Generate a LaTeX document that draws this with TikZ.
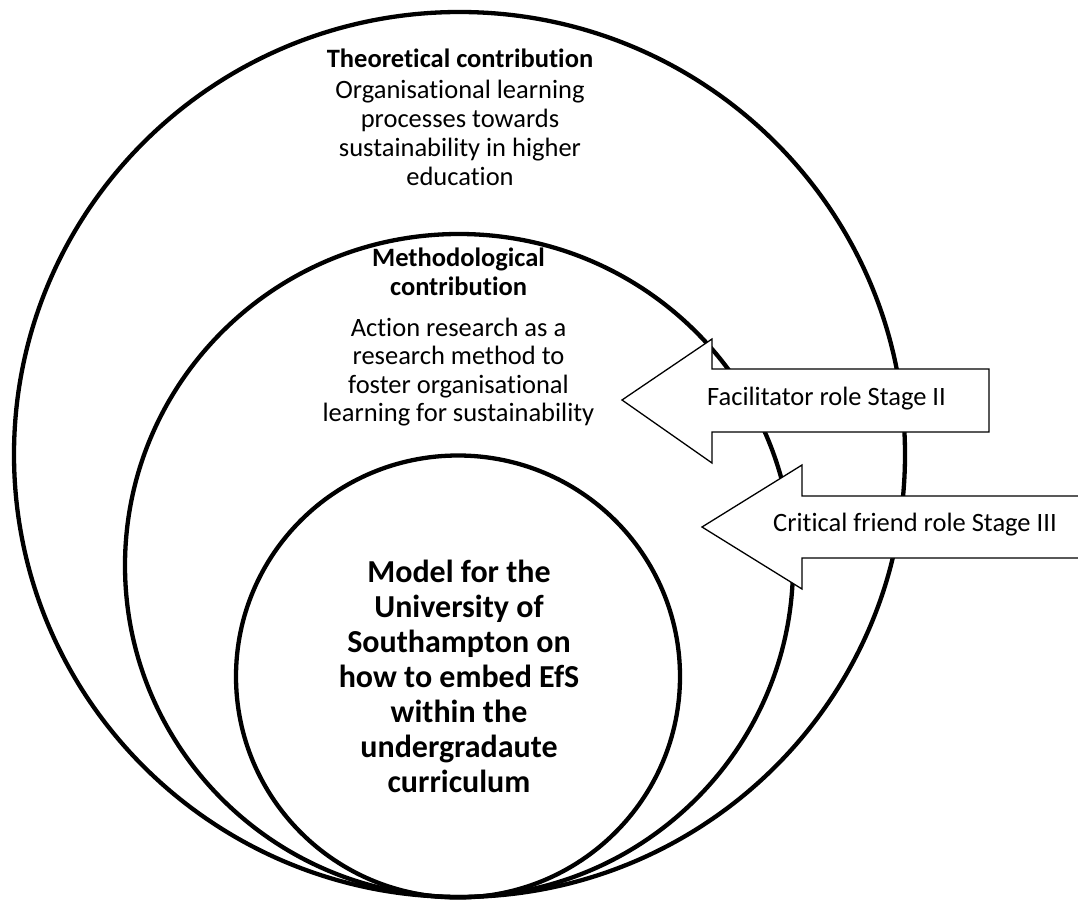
\documentclass[tikz,border=0pt]{standalone}
\usepackage{fontspec}
\setmainfont{Carlito}[Ligatures=NoCommon]
\begin{document}
\begin{tikzpicture}[x=1pt,y=-1pt,
  ring/.style={line width=4.3pt},
  blockarrow/.style={draw, fill=white, line width=1.3pt, line join=miter},
  txt/.style={align=center, inner sep=0pt, font=\fontsize{26.5}{29}\selectfont},
  arrowtxt/.style={inner sep=0pt, anchor=base west, font=\fontsize{26.5}{29}\selectfont},
  bigtxt/.style={align=center, inner sep=0pt, font=\fontsize{32}{35}\selectfont\bfseries}]
\useasboundingbox (0,0) rectangle (1078,901);
\clip (0,0) rectangle (1078,901);
% circles
\coordinate (outerc) at (459.5,454.5);
\coordinate (middlec) at (459,565.5);
\coordinate (innerc) at (458,676.5);
\draw[ring] (outerc) ellipse [x radius=445.5pt, y radius=442.5pt];
\draw[ring] (middlec) ellipse [x radius=334pt, y radius=331.5pt];
\draw[ring] (innerc) ellipse [x radius=222pt, y radius=221pt];
% texts (base anchor = baseline of the last line)
\node[txt, anchor=base] (theo) at (460,185.7)
  {\textbf{Theoretical contribution}\\[2.5pt]
   Organisational learning\\ processes towards\\ sustainability in higher\\ education};
\node[txt, anchor=base, font=\fontsize{26.5}{28.5}\selectfont] (meth) at (458.5,421.7)
  {\textbf{Methodological}\\ \textbf{contribution}\\[12.5pt]
   Action research as a\\ research method to\\ foster organisational\\ learning for sustainability};
\node[bigtxt, anchor=base] (model) at (459,792.3)
  {Model for the\\ University of\\ Southampton on\\ how to embed EfS\\ within the\\ undergradaute\\ curriculum};
% block arrows
\draw[blockarrow] (622,400) -- (712,339) -- (712,369) -- (989,369) -- (989,432)
  -- (712,432) -- (712,463) -- cycle;
\node[arrowtxt] (facil) at (707,405) {Facilitator role Stage II};
\draw[blockarrow] (702,527) -- (802,465) -- (802,496) -- (1095,496) -- (1095,558)
  -- (802,558) -- (802,589) -- cycle;
\node[arrowtxt] (critic) at (773,531.7) {Critical friend role Stage III};
\end{tikzpicture}
\end{document}
